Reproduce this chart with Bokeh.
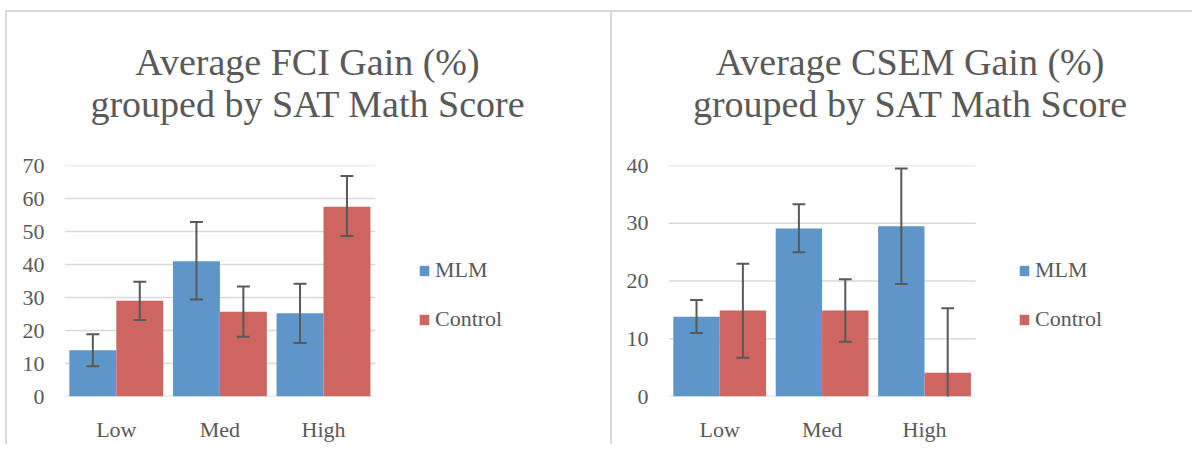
from bokeh.plotting import figure
from bokeh.models import (Range1d, FactorRange, FixedTicker, Legend, LegendItem,
                          ColumnDataSource, Div)
from bokeh.transform import dodge
from bokeh.layouts import row, column
from bokeh.embed import file_html
from bokeh.resources import INLINE

# ---------------- data ----------------
categories = ["Low", "Med", "High"]
series_names = ["MLM", "Control"]

fci_title = ["Average FCI Gain (%)", "grouped by SAT Math Score"]
csem_title = ["Average CSEM Gain (%)", "grouped by SAT Math Score"]

fci_mlm = [14.0, 41.0, 25.2]
fci_mlm_lo = [9.2, 29.4, 16.2]
fci_mlm_hi = [18.9, 52.9, 34.2]
fci_ctrl = [29.0, 25.7, 57.5]
fci_ctrl_lo = [23.2, 18.1, 48.6]
fci_ctrl_hi = [34.8, 33.3, 66.8]

csem_mlm = [13.8, 29.1, 29.5]
csem_mlm_lo = [11.0, 25.0, 19.5]
csem_mlm_hi = [16.7, 33.3, 39.5]
csem_ctrl = [14.9, 14.9, 4.1]
csem_ctrl_lo = [6.7, 9.5, -7.1]
csem_ctrl_hi = [23.0, 20.3, 15.3]

fci_ticks = [0, 10, 20, 30, 40, 50, 60, 70]
csem_ticks = [0, 10, 20, 30, 40]

# ---------------- style ----------------
FONT = "Liberation Serif"
TXT = "#595959"
GRID = "#d9d9d9"
BORDER = "#d9d9d9"
BLUE = "#5F96C9"
RED = "#CD6660"
ERR = "#595959"
BAR_W = 0.453
CAP = 0.0625
TITLE_H = 130
PAD_FACTORS = [" ", "  "]   # empty slots on the right that hold the legend


def line_bg(parts):
    g = "linear-gradient(%s,%s)" % (BORDER, BORDER)
    return {"background": ", ".join("%s %s no-repeat" % (g, p) for p in parts)}


def make_title(width, lines, center_w, bg_parts):
    html = ('<div style="margin:0;padding:41px 0 0 0;width:%dpx;text-align:center;'
            'font-family:\'%s\';font-size:38px;line-height:42px;color:%s;'
            'white-space:nowrap;">%s<br>%s</div>'
            % (center_w, FONT, TXT, lines[0], lines[1]))
    styles = line_bg(bg_parts)
    styles.update({"margin": "0", "padding": "0"})
    return Div(text=html, width=width, height=TITLE_H, margin=0, styles=styles)


def make_chart(ticks, mlm, mlm_lo, mlm_hi, ctrl, ctrl_lo, ctrl_hi,
               width, b_left, b_right, leg_x, bg_parts):
    p = figure(x_range=FactorRange(*(categories + PAD_FACTORS)),
               y_range=Range1d(ticks[0], ticks[-1]),
               width=width, height=314, output_backend="svg", toolbar_location=None,
               min_border_left=b_left, min_border_right=b_right,
               min_border_top=35, min_border_bottom=46)
    p.border_fill_color = None
    p.background_fill_color = None
    p.outline_line_color = None
    p.styles = line_bg(bg_parts)

    # horizontal gridlines, spanning only the three categories
    gsrc = ColumnDataSource(dict(a=[categories[0]] * len(ticks),
                                 b=[categories[-1]] * len(ticks), y=ticks))
    p.segment(x0=dodge("a", -0.5, range=p.x_range), x1=dodge("b", 0.5, range=p.x_range),
              y0="y", y1="y", source=gsrc, line_color=GRID, line_width=1.5)

    src = ColumnDataSource(dict(cat=categories, mlm=mlm, mlm_lo=mlm_lo, mlm_hi=mlm_hi,
                                ctrl=ctrl, ctrl_lo=ctrl_lo, ctrl_hi=ctrl_hi))
    off = BAR_W / 2
    r1 = p.vbar(x=dodge("cat", -off, range=p.x_range), top="mlm", width=BAR_W,
                source=src, fill_color=BLUE, line_color=None)
    r2 = p.vbar(x=dodge("cat", off, range=p.x_range), top="ctrl", width=BAR_W,
                source=src, fill_color=RED, line_color=None)

    for o, lo, hi in [(-off, "mlm_lo", "mlm_hi"), (off, "ctrl_lo", "ctrl_hi")]:
        p.segment(x0=dodge("cat", o, range=p.x_range), x1=dodge("cat", o, range=p.x_range),
                  y0=lo, y1=hi, source=src, line_color=ERR, line_width=2)
        for end in (lo, hi):
            p.segment(x0=dodge("cat", o - CAP, range=p.x_range),
                      x1=dodge("cat", o + CAP, range=p.x_range),
                      y0=end, y1=end, source=src, line_color=ERR, line_width=2)

    p.yaxis.ticker = FixedTicker(ticks=ticks)
    for ax in (p.xaxis[0], p.yaxis[0]):
        ax.axis_line_color = None
        ax.major_tick_line_color = None
        ax.minor_tick_line_color = None
        ax.major_tick_out = 0
        ax.major_tick_in = 0
        ax.minor_tick_out = 0
        ax.major_label_text_font = FONT
        ax.major_label_text_font_size = "22px"
        ax.major_label_text_color = TXT
        ax.major_label_standoff = 20
    p.xgrid.grid_line_color = None
    p.ygrid.grid_line_color = None

    legend = Legend(items=[LegendItem(label=series_names[0], renderers=[r1]),
                           LegendItem(label=series_names[1], renderers=[r2])],
                    location=(leg_x, 64), padding=0, margin=0, spacing=23,
                    glyph_width=12, glyph_height=13, label_standoff=5,
                    label_height=20, border_line_color=None,
                    background_fill_alpha=0,
                    label_text_font="'Liberation Serif', serif",
                    label_text_font_size="22px",
                    label_text_color=TXT)
    p.add_layout(legend, "center")
    return p


t1 = make_title(610, fci_title, 615, ["6px 10px / 100% 2px", "5px 10px / 2px 100%"])
p1 = make_chart(fci_ticks, fci_mlm, fci_mlm_lo, fci_mlm_hi,
                fci_ctrl, fci_ctrl_lo, fci_ctrl_hi,
                610, 64, 28, 354, ["5px 0 / 2px 100%"])
t2 = make_title(582, csem_title, 600, ["0 10px / 100% 2px", "0 10px / 2px 100%"])
p2 = make_chart(csem_ticks, csem_mlm, csem_mlm_lo, csem_mlm_hi,
                csem_ctrl, csem_ctrl_lo, csem_ctrl_hi,
                582, 58, 12, 350, ["0 0 / 2px 100%"])

layout = row(column(t1, p1, spacing=0), column(t2, p2, spacing=0), spacing=0)
open("out.html", "w").write(file_html(layout, INLINE))
